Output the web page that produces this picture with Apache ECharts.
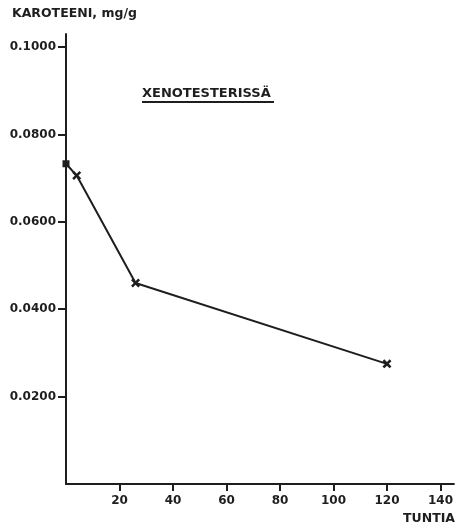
<!DOCTYPE html>
<html><head><meta charset="utf-8">
<script src="https://cdn.jsdelivr.net/npm/echarts@6/dist/echarts.min.js"></script>
<style>html,body{margin:0;padding:0;background:#fff;}#c{width:456px;height:529px;}</style>
</head><body><div id="c"></div>
<script>
var hours = [0, 4, 26, 120];
var karoteeni = [0.0733, 0.0706, 0.0460, 0.0275];
var xTicks = [20, 40, 60, 80, 100, 120, 140];
var yTicks = [0.02, 0.04, 0.06, 0.08, 0.10];
var yLabel = 'KAROTEENI, mg/g';
var xLabel = 'TUNTIA';
var title = 'XENOTESTERISSÄ';

var ink = '#1e1e1e';
var font = 'DejaVu Sans';
var crossPath = 'path://M0,2L2,0L5,3L8,0L10,2L7,5L10,8L8,10L5,7L2,10L0,8L3,5Z';

var data = hours.map(function (h, i) {
  return {
    value: [h, karoteeni[i]],
    symbol: i === 0 ? 'rect' : crossPath,
    symbolSize: i === 0 ? 7 : 9
  };
});

var chart = echarts.init(document.getElementById('c'), null, {renderer: 'canvas'});
chart.setOption({
  backgroundColor: '#fff',
  animation: false,
  grid: {left: 66, right: 0, top: 34, bottom: 45, containLabel: false},
  xAxis: {
    type: 'value', min: 0, max: 145,
    splitLine: {show: false},
    axisLine: {show: true, onZero: false, lineStyle: {color: ink, width: 2}},
    axisTick: {show: true, length: 7, lineStyle: {color: ink, width: 2}, customValues: xTicks},
    axisLabel: {color: ink, fontFamily: font, fontWeight: 'bold', fontSize: 12, margin: 11, customValues: xTicks}
  },
  yAxis: {
    type: 'value', min: 0, max: 0.103,
    splitLine: {show: false},
    axisLine: {show: true, onZero: false, lineStyle: {color: ink, width: 2}},
    axisTick: {show: true, length: 8, lineStyle: {color: ink, width: 2}, customValues: yTicks},
    axisLabel: {color: ink, fontFamily: font, fontWeight: 'bold', fontSize: 12, margin: 10,
      customValues: yTicks,
      formatter: function (v) { return v.toFixed(4); }}
  },
  series: [{
    type: 'line',
    data: data,
    lineStyle: {color: ink, width: 2},
    itemStyle: {color: ink},
    showSymbol: true,
    z: 5
  }],
  graphic: [
    {type: 'text', left: 12, top: 7, style: {text: yLabel, fill: ink, font: 'bold 12.5px "DejaVu Sans"'}},
    {type: 'text', right: 1, top: 512, style: {text: xLabel, fill: ink, font: 'bold 12.5px "DejaVu Sans"'}},
    {type: 'text', left: 142, top: 87, style: {text: title, fill: ink, font: 'bold 13px "DejaVu Sans"'}},
    {type: 'line', shape: {x1: 142, y1: 102, x2: 274, y2: 102}, style: {stroke: ink, lineWidth: 2}}
  ]
});
</script></body></html>
